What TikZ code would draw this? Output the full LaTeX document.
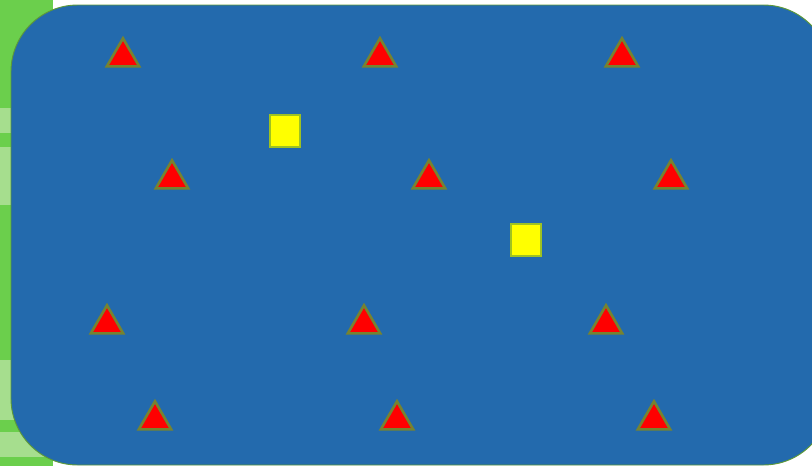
\documentclass[tikz,border=0pt]{standalone}
\usepackage{xcolor}
\usetikzlibrary{shapes.geometric}
\definecolor{fieldgreen}{HTML}{6BCF4C}
\definecolor{palegreen}{HTML}{A6DE8E}
\definecolor{poolblue}{HTML}{236AAD}
\definecolor{edgegreen}{HTML}{5E9A38}
\definecolor{conered}{HTML}{FF0000}
\definecolor{boxyellow}{HTML}{FFFF00}
\begin{document}
\begin{tikzpicture}[x=0.03cm,y=-0.03cm]
	\tikzset{cone/.style={regular polygon, regular polygon sides=3, draw=edgegreen!85!red, line width=2.2pt, fill=conered, inner sep=0pt, minimum size=1.12cm},
	         marker/.style={rectangle, draw=edgegreen!60!yellow, line width=1.6pt, fill=boxyellow, inner sep=0pt, minimum width=0.92cm, minimum height=0.96cm}}
	\useasboundingbox (0,0) rectangle (812,466);

	%---BACKGROUND---
	\fill[fieldgreen] (0,0) rectangle (53,466);
	\fill[palegreen] (0,108) rectangle (53,133);
	\fill[palegreen] (0,147) rectangle (53,205);
	\fill[palegreen] (0,360) rectangle (53,420);
	\fill[palegreen] (0,432) rectangle (53,457);
	\filldraw[fill=poolblue, draw=edgegreen, line width=0.8pt, rounded corners=2cm] (11,5) rectangle (830,465);

	%---NODES---
	\node[cone] (c1) at (123,57) {};
	\node[cone] (c2) at (380,57) {};
	\node[cone] (c3) at (622,57) {};

	\node[cone] (c4) at (172,179) {};
	\node[cone] (c5) at (429,179) {};
	\node[cone] (c6) at (671,179) {};

	\node[cone] (c7) at (107,324) {};
	\node[cone] (c8) at (364,324) {};
	\node[cone] (c9) at (606,324) {};

	\node[cone] (c10) at (155,420) {};
	\node[cone] (c11) at (397,420) {};
	\node[cone] (c12) at (654,420) {};

	\node[marker] (m1) at (285,131) {};
	\node[marker] (m2) at (526,240) {};

\end{tikzpicture}
\end{document}
